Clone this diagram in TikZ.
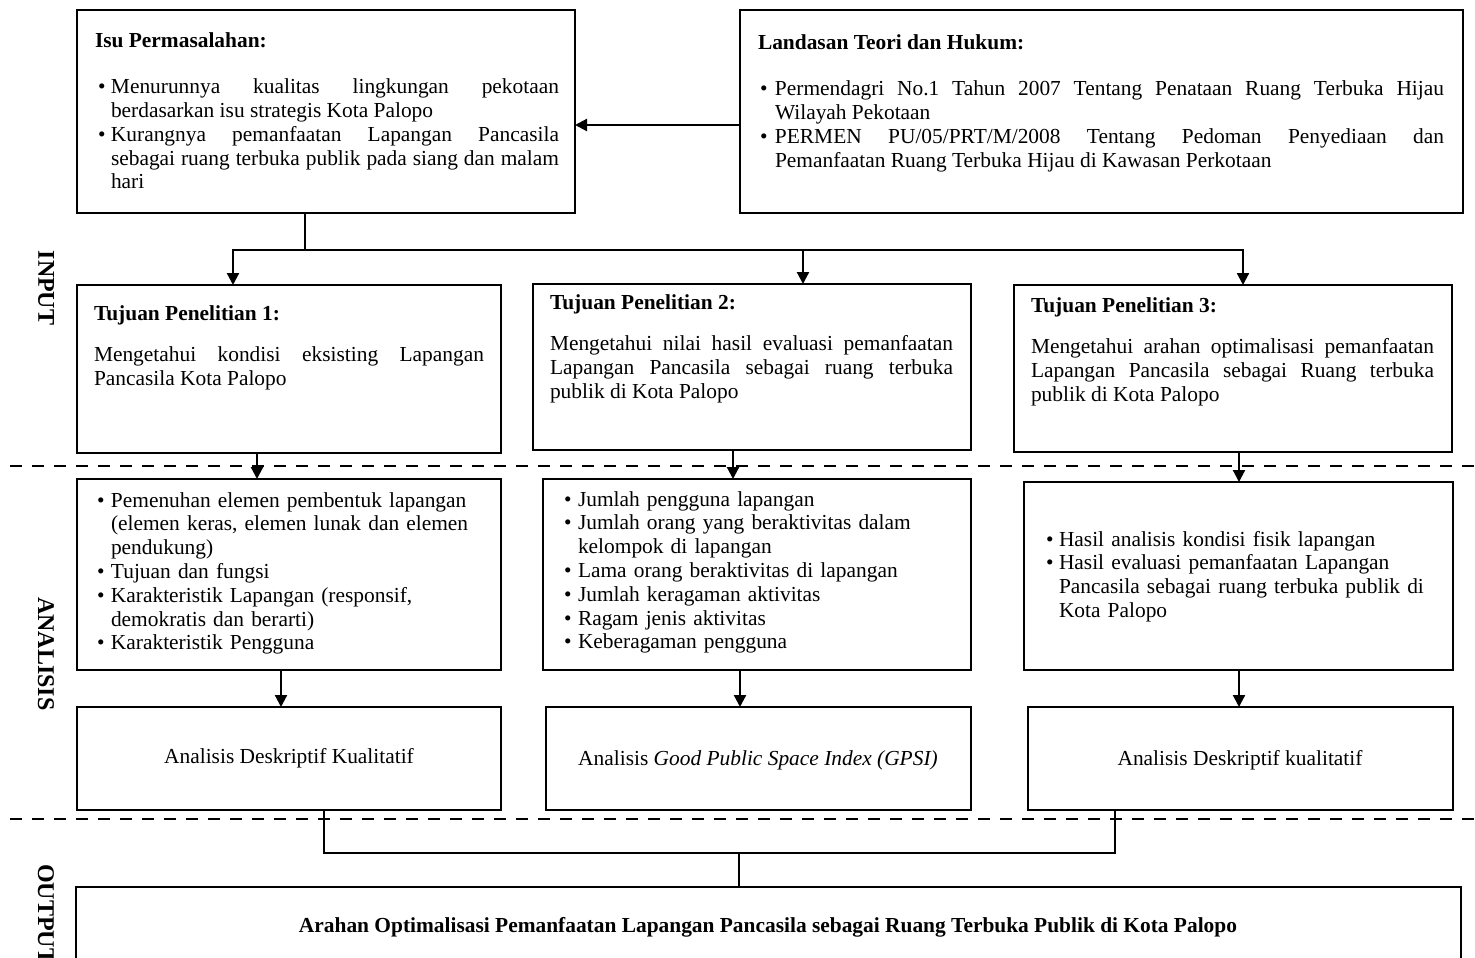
\documentclass[tikz,border=0pt]{standalone}
\usepackage{fontspec}
\setmainfont{Liberation Serif}
\usetikzlibrary{arrows.meta,calc}
\newcommand\fsz{\fontsize{21.4}{23.8}\selectfont}
\newcommand\bitem[2]{\noindent\hangindent=#1\hangafter=1\relax\makebox[#1][l]{\hspace{#2}\textbullet}}
\begin{document}
\begin{tikzpicture}[x=1pt,y=-1pt,
  box/.style={draw, line width=1.3pt, inner sep=0pt, outer sep=0pt, anchor=north west},
  txt/.style={inner sep=0pt, outer sep=0pt, anchor=base west, font=\fsz, align=justify},
  rtxt/.style={inner sep=0pt, outer sep=0pt, anchor=base west, font=\fsz, align=left},
  ctxt/.style={inner sep=0pt, outer sep=0pt, anchor=base, font=\fsz},
  lab/.style={inner sep=0pt, font=\fontsize{24}{28}\selectfont\bfseries, rotate=-90},
  conn/.style={line width=2.2pt},
  arr/.style={conn, -{Triangle[width=12pt,length=12pt]}},
  sep/.style={line width=2.5pt, dash pattern=on 12pt off 10pt}]
\useasboundingbox (0,0) rectangle (1475,958);
\clip (0,0) rectangle (1475,958);

% ---------- boxes ----------
\node[box, minimum width=498pt, minimum height=203pt] (isu)  at (77,10) {};
\node[box, minimum width=723pt, minimum height=203pt] (land) at (740,10) {};
\node[box, minimum width=424pt, minimum height=168pt] (t1) at (77,285) {};
\node[box, minimum width=438pt, minimum height=166pt] (t2) at (533,284) {};
\node[box, minimum width=438pt, minimum height=167pt] (t3) at (1014,285) {};
\node[box, minimum width=424pt, minimum height=191pt] (an1) at (77,479) {};
\node[box, minimum width=428pt, minimum height=191pt] (an2) at (543,479) {};
\node[box, minimum width=429pt, minimum height=188pt] (an3) at (1024,482) {};
\node[box, minimum width=424pt, minimum height=103pt] (a1) at (77,707) {};
\node[box, minimum width=425pt, minimum height=103pt] (a2) at (546,707) {};
\node[box, minimum width=425pt, minimum height=103pt] (a3) at (1028,707) {};
\node[box, minimum width=1385pt, minimum height=110pt] (out) at (76,887) {};

% ---------- texts ----------
\node[txt, text width=464pt] (isuT) at (95,48) {%
{\bfseries Isu Permasalahan:}\par\vspace{22pt}
\bitem{16pt}{3pt}Menurunnya kualitas lingkungan pekotaan\linebreak berdasarkan isu strategis Kota Palopo\par
\bitem{16pt}{3pt}Kurangnya pemanfaatan Lapangan Pancasila\linebreak sebagai ruang terbuka publik pada siang dan malam\linebreak hari\par};

\node[txt, text width=686pt] (landT) at (758,50) {%
{\bfseries Landasan Teori dan Hukum:}\par\vspace{22pt}
\bitem{17pt}{2pt}Permendagri No.1 Tahun 2007 Tentang Penataan Ruang Terbuka Hijau\linebreak Wilayah Pekotaan\par
\bitem{17pt}{2pt}PERMEN PU/05/PRT/M/2008 Tentang Pedoman Penyediaan dan\linebreak Pemanfaatan Ruang Terbuka Hijau di Kawasan Perkotaan\par};

\node[txt, text width=390pt] (t1T) at (94,320) {%
{\bfseries Tujuan Penelitian 1:}\par\vspace{18pt}
Mengetahui kondisi eksisting Lapangan\linebreak Pancasila Kota Palopo\par};

\node[txt, text width=403pt] (t2T) at (550,309) {%
{\bfseries Tujuan Penelitian 2:}\par\vspace{18pt}
Mengetahui nilai hasil evaluasi pemanfaatan\linebreak Lapangan Pancasila sebagai ruang terbuka\linebreak publik di Kota Palopo\par};

\node[txt, text width=403pt] (t3T) at (1031,312) {%
{\bfseries Tujuan Penelitian 3:}\par\vspace{18pt}
Mengetahui arahan optimalisasi pemanfaatan\linebreak Lapangan Pancasila sebagai Ruang terbuka\linebreak publik di Kota Palopo\par};

\node[rtxt, text width=390pt] (an1T) at (95,507) {%
\bitem{16pt}{2pt}Pemenuhan elemen pembentuk lapangan\newline (elemen keras, elemen lunak dan elemen\newline pendukung)\par
\bitem{16pt}{2pt}Tujuan dan fungsi\par
\bitem{16pt}{2pt}Karakteristik Lapangan (responsif,\newline demokratis dan berarti)\par
\bitem{16pt}{2pt}Karakteristik Pengguna\par};

\node[rtxt, text width=400pt] (an2T) at (562,506) {%
\bitem{16pt}{2pt}Jumlah pengguna lapangan\par
\bitem{16pt}{2pt}Jumlah orang yang beraktivitas dalam\newline kelompok di lapangan\par
\bitem{16pt}{2pt}Lama orang beraktivitas di lapangan\par
\bitem{16pt}{2pt}Jumlah keragaman aktivitas\par
\bitem{16pt}{2pt}Ragam jenis aktivitas\par
\bitem{16pt}{2pt}Keberagaman pengguna\par};

\node[rtxt, text width=400pt] (an3T) at (1044,546) {%
\bitem{15pt}{2pt}Hasil analisis kondisi fisik lapangan\par
\bitem{15pt}{2pt}Hasil evaluasi pemanfaatan Lapangan\newline Pancasila sebagai ruang terbuka publik di\newline Kota Palopo\par};

\node[ctxt] (a1T) at (289,763) {Analisis Deskriptif Kualitatif};
\node[ctxt] (a2T) at (758,765) {Analisis \textit{Good Public Space Index (GPSI)}};
\node[ctxt] (a3T) at (1240,765) {Analisis Deskriptif kualitatif};
\node[ctxt, font=\fsz\bfseries] (outT) at (768,932) {Arahan Optimalisasi Pemanfaatan Lapangan Pancasila sebagai Ruang Terbuka Publik di Kota Palopo};

% ---------- side labels ----------
\node[lab] (labIn) at (46,288) {INPUT};
\node[lab] (labAn) at (46,654) {ANALISIS};
\node[lab] (labOut) at (46,914) {OUTPUT};

% ---------- separators ----------
\draw[sep] (10,466) -- (1475,466);
\draw[sep] (10,819) -- (1475,819);

% ---------- connectors ----------
\coordinate (c1) at (740,125);
\draw[arr] (land.west |- c1) -- (isu.east |- c1);

\coordinate (split) at (305,250);
\coordinate (j1) at (233,250);
\coordinate (j2) at (803,250);
\coordinate (j3) at (1243,250);
\draw[conn] (isu.south -| split) -- (split);
\draw[arr] (split) -- (j1) -- (t1.north -| j1);
\draw[arr] (split) -- (j3) -- (t3.north -| j3);
\draw[arr] (j2) -- (t2.north -| j2);

\coordinate (k1) at (257,0);
\coordinate (k2) at (733,0);
\coordinate (k3) at (1239,0);
\draw[arr] (t1.south -| k1) -- (an1.north -| k1);
\draw[arr] (t2.south -| k2) -- (an2.north -| k2);
\draw[arr] (t3.south -| k3) -- (an3.north -| k3);

\coordinate (m1) at (281,0);
\coordinate (m2) at (740,0);
\coordinate (m3) at (1239,0);
\draw[arr] (an1.south -| m1) -- (a1.north -| m1);
\draw[arr] (an2.south -| m2) -- (a2.north -| m2);
\draw[arr] (an3.south -| m3) -- (a3.north -| m3);

\coordinate (o1) at (324,853);
\coordinate (o3) at (1115,853);
\coordinate (om) at (739,853);
\draw[conn] (a1.south -| o1) -- (o1) -- (o3) -- (a3.south -| o3);
\draw[conn] (om) -- (out.north -| om);
\end{tikzpicture}
\end{document}
